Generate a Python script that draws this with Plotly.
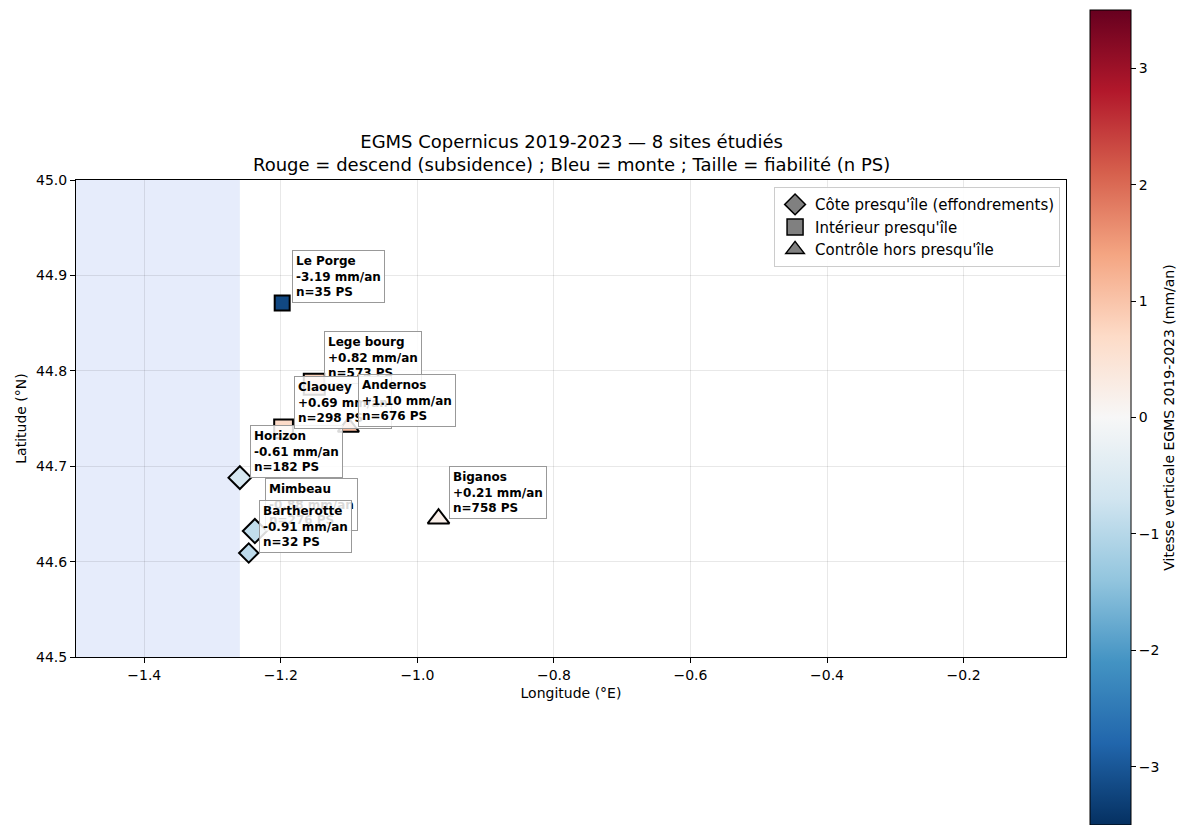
import numpy as np
import plotly.graph_objects as go

# ---- data ----
names = ["Horizon", "Mimbeau", "Bartherotte", "Lege bourg", "Claouey", "Le Porge", "Andernos", "Biganos"]
groups = ["coast", "coast", "coast", "interior", "interior", "interior", "control", "control"]
lon = [-1.260, -1.238, -1.247, -1.151, -1.196, -1.198, -1.101, -0.969]
lat = [44.688, 44.632, 44.609, 44.786, 44.739, 44.871, 44.741, 44.645]
velocity = [-0.61, -0.88, -0.91, 0.82, 0.69, -3.19, 1.10, 0.21]
n_ps = [182, 276, 32, 573, 298, 35, 676, 758]

group_keys = ["coast", "interior", "control"]
group_labels = ["Côte presqu'île (effondrements)", "Intérieur presqu'île", "Contrôle hors presqu'île"]
group_symbols = {"coast": "diamond", "interior": "square", "control": "triangle-up"}
symbol_scale = {"coast": 1.0, "interior": 1.0, "control": 0.85}

colorbar_ticks = [-3, -2, -1, 0, 1, 2, 3]
vlim = 3.5
ocean_lon = [-1.5, -1.26]

rdbu_r = ['rgb(5,48,97)', 'rgb(33,102,172)', 'rgb(67,147,195)', 'rgb(146,197,222)',
          'rgb(209,229,240)', 'rgb(247,247,247)', 'rgb(253,219,199)', 'rgb(244,165,130)',
          'rgb(214,96,77)', 'rgb(178,24,43)', 'rgb(103,0,31)']
colorscale = [[i / (len(rdbu_r) - 1), c] for i, c in enumerate(rdbu_r)]

FONT = "DejaVu Sans"

fig = go.Figure()

# ocean band
fig.add_shape(type="rect", xref="x", yref="paper", x0=ocean_lon[0], x1=ocean_lon[1], y0=0, y1=1,
              fillcolor="rgba(65,105,225,0.13)", line_width=0, layer="below")

for g in group_keys:
    idx = [i for i, gg in enumerate(groups) if gg == g]
    sizes = [(13 + 0.333 * np.sqrt(n_ps[i])) * symbol_scale[g] for i in idx]
    fig.add_trace(go.Scatter(
        x=[lon[i] for i in idx], y=[lat[i] for i in idx], mode="markers",
        marker=dict(symbol=group_symbols[g], size=sizes, opacity=1,
                    color=[velocity[i] for i in idx], coloraxis="coloraxis",
                    line=dict(color="black", width=2)),
        showlegend=False, hoverinfo="skip"))

# legend entries (grey)
for g, lab in zip(group_keys, group_labels):
    fig.add_trace(go.Scatter(
        x=[None], y=[None], mode="markers", name=lab,
        marker=dict(symbol=group_symbols[g], size=16, color="#808080", opacity=1,
                    line=dict(color="black", width=1.5))))

for i in range(len(names)):
    fig.add_annotation(
        x=lon[i], y=lat[i], xref="x", yref="y",
        text=f"<b>{names[i]}<br>{velocity[i]:+.2f} mm/an<br>n={n_ps[i]} PS</b>",
        showarrow=False, xanchor="left", yanchor="bottom", align="left",
        xshift=10, yshift=0,
        font=dict(family=FONT, size=12, color="black"),
        bgcolor="rgba(255,255,255,0.85)", bordercolor="#999999", borderwidth=1, borderpad=3)

# title (two lines)
fig.add_annotation(
    x=0.5, y=1, xref="paper", yref="paper", xanchor="center", yanchor="bottom", yshift=3,
    showarrow=False, align="center",
    text="EGMS Copernicus 2019-2023 — 8 sites étudiés<br>Rouge = descend (subsidence) ; Bleu = monte ; Taille = fiabilité (n PS)",
    font=dict(family=FONT, size=18, color="black"))

# zero line on colorbar
cb_x0, cb_x1 = (1090 - 76) / 990, (1131 - 76) / 990
fig.add_shape(type="line", xref="paper", yref="paper", x0=cb_x0, x1=cb_x1,
              y0=(657 - 418) / 477, y1=(657 - 418) / 477, line=dict(color="black", width=1.2))

axis_common = dict(showline=True, linecolor="black", linewidth=1, mirror=True,
                   ticks="outside", ticklen=5, tickcolor="black",
                   showgrid=True, gridcolor="rgba(0,0,0,0.09)", gridwidth=1, zeroline=False,
                   tickfont=dict(family=FONT, size=14, color="black"))

fig.update_layout(
    width=1184, height=825, autosize=False,
    margin=dict(l=76, r=118, t=180, b=168, autoexpand=False),
    plot_bgcolor="white", paper_bgcolor="white",
    font=dict(family=FONT, size=14, color="black"),
    xaxis=dict(range=[-1.5, -0.05], tickvals=[-1.4, -1.2, -1.0, -0.8, -0.6, -0.4, -0.2],
               ticktext=["−1.4", "−1.2", "−1.0", "−0.8", "−0.6", "−0.4", "−0.2"],
               title=dict(text="Longitude (°E)", font=dict(family=FONT, size=14), standoff=6),
               **axis_common),
    yaxis=dict(range=[44.5, 45.0], tickvals=[44.5, 44.6, 44.7, 44.8, 44.9, 45.0],
               ticktext=["44.5", "44.6", "44.7", "44.8", "44.9", "45.0"],
               title=dict(text="Latitude (°N)", font=dict(family=FONT, size=14), standoff=6),
               **axis_common),
    coloraxis=dict(colorscale=colorscale, cmin=-vlim, cmax=vlim,
                   colorbar=dict(x=cb_x0, xanchor="left", xref="paper", y=(657 - 417.5) / 477, yanchor="middle",
                                 yref="paper",
                                 len=815, lenmode="pixels", thickness=41, thicknessmode="pixels",
                                 outlinecolor="black", outlinewidth=1,
                                 tickvals=colorbar_ticks, ticks="outside", ticklen=5, tickcolor="black",
                                 tickfont=dict(family=FONT, size=14),
                                 xpad=0, ypad=0,
                                 title=dict(text="Vitesse verticale EGMS 2019-2023 (mm/an)", side="right",
                                            font=dict(family=FONT, size=14)))),
    legend=dict(x=0.994, y=0.985, xanchor="right", yanchor="top", bgcolor="rgba(255,255,255,0.9)",
                bordercolor="#cccccc", borderwidth=1, font=dict(family=FONT, size=15),
                tracegroupgap=0),
)

fig.write_html("out.html", config={"displayModeBar": False},
               post_script="document.body.style.margin='0';document.body.style.overflow='hidden';")
